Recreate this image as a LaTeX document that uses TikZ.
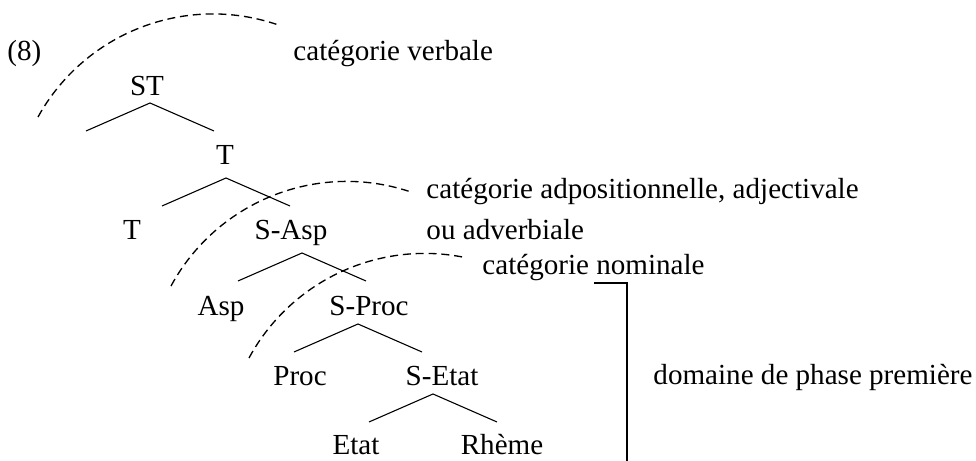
\documentclass[tikz,border=0pt]{standalone}
\usepackage{fontspec}
\setmainfont{Liberation Serif}
\usepackage{tikz}
\tikzstyle{Cat}=[inner sep=0pt, anchor=base, font=\fontsize{12}{14}\selectfont, text=black]
\tikzstyle{Gloss}=[inner sep=0pt, anchor=base west, font=\fontsize{12}{14}\selectfont, text=black]
\tikzstyle{treeline}=[line width=0.45pt, draw=black]
\tikzstyle{phasearc}=[line width=0.55pt, draw=black, dash pattern=on 3.3pt off 2pt]
\tikzstyle{phaseline}=[line width=0.8pt, draw=black]
\pgfdeclarelayer{nodelayer}
\pgfdeclarelayer{edgelayer}
\pgfsetlayers{nodelayer, edgelayer, main}

\begin{document}
\begin{tikzpicture}[x=0.4125pt, y=0.4125pt]
	\useasboundingbox (0,0) rectangle (976,-461);
	\begin{pgfonlayer}{nodelayer}
		\node [style=Gloss] (ex) at (7,-61) {(8)};
		\node [style=Cat] (st) at (147,-96) {ST};
		\node [style=Cat] (t) at (225,-165) {T};
		\node [style=Cat] (tleaf) at (132,-240) {T};
		\node [style=Cat] (sasp) at (291,-240) {S-Asp};
		\node [style=Cat] (asp) at (221,-316) {Asp};
		\node [style=Cat] (sproc) at (369,-316) {S-Proc};
		\node [style=Cat] (proc) at (300,-386) {Proc};
		\node [style=Cat] (setat) at (442,-386) {S-Etat};
		\node [style=Cat] (etat) at (356,-455) {Etat};
		\node [style=Cat] (rheme) at (502,-455) {Rhème};

		\node [style=Gloss] (verbal) at (293,-61) {catégorie verbale};
		\node [style=Gloss] (adpos) at (426,-199) {catégorie adpositionnelle, adjectivale};
		\node [style=Gloss] (adverb) at (426,-240) {ou adverbiale};
		\node [style=Gloss] (nominal) at (482,-275) {catégorie nominale};
		\node [style=Gloss] (phase) at (653,-385) {domaine de phase première};
	\end{pgfonlayer}
	\begin{pgfonlayer}{edgelayer}
		% branches
		\coordinate (st-top) at (150,-103);
		\coordinate (st-l) at (86,-131);
		\coordinate (st-r) at (214,-131);
		\coordinate (t-top) at (226,-178);
		\coordinate (t-l) at (162,-206);
		\coordinate (t-r) at (290,-206);
		\coordinate (sasp-top) at (302,-253);
		\coordinate (sasp-l) at (238,-281);
		\coordinate (sasp-r) at (366,-281);
		\coordinate (sproc-top) at (358,-324);
		\coordinate (sproc-l) at (294,-352);
		\coordinate (sproc-r) at (422,-352);
		\coordinate (setat-top) at (433,-394);
		\coordinate (setat-l) at (369,-422);
		\coordinate (setat-r) at (497,-422);
		\draw [style=treeline] (st-l) to (st-top) to (st-r);
		\draw [style=treeline] (t-l) to (t-top) to (t-r);
		\draw [style=treeline] (sasp-l) to (sasp-top) to (sasp-r);
		\draw [style=treeline] (sproc-l) to (sproc-top) to (sproc-r);
		\draw [style=treeline] (setat-l) to (setat-top) to (setat-r);

		% dashed categories
		\coordinate (arc-verbal) at (38,-117);
		\coordinate (arc-adpos) at (171,-286);
		\coordinate (arc-nominal) at (249,-358);
		\draw [style=phasearc] (arc-verbal) arc[start angle=151, end angle=71.5, radius=200];
		\draw [style=phasearc] (arc-adpos) arc[start angle=151.5, end angle=72, radius=200];
		\draw [style=phasearc] (arc-nominal) arc[start angle=151.5, end angle=78, radius=200];

		% phase domain
		\coordinate (phase-a) at (594,-283);
		\coordinate (phase-b) at (627,-283);
		\coordinate (phase-c) at (627,-461);
		\draw [style=phaseline] (phase-a) to (phase-b) to (phase-c);
	\end{pgfonlayer}
\end{tikzpicture}
\end{document}
